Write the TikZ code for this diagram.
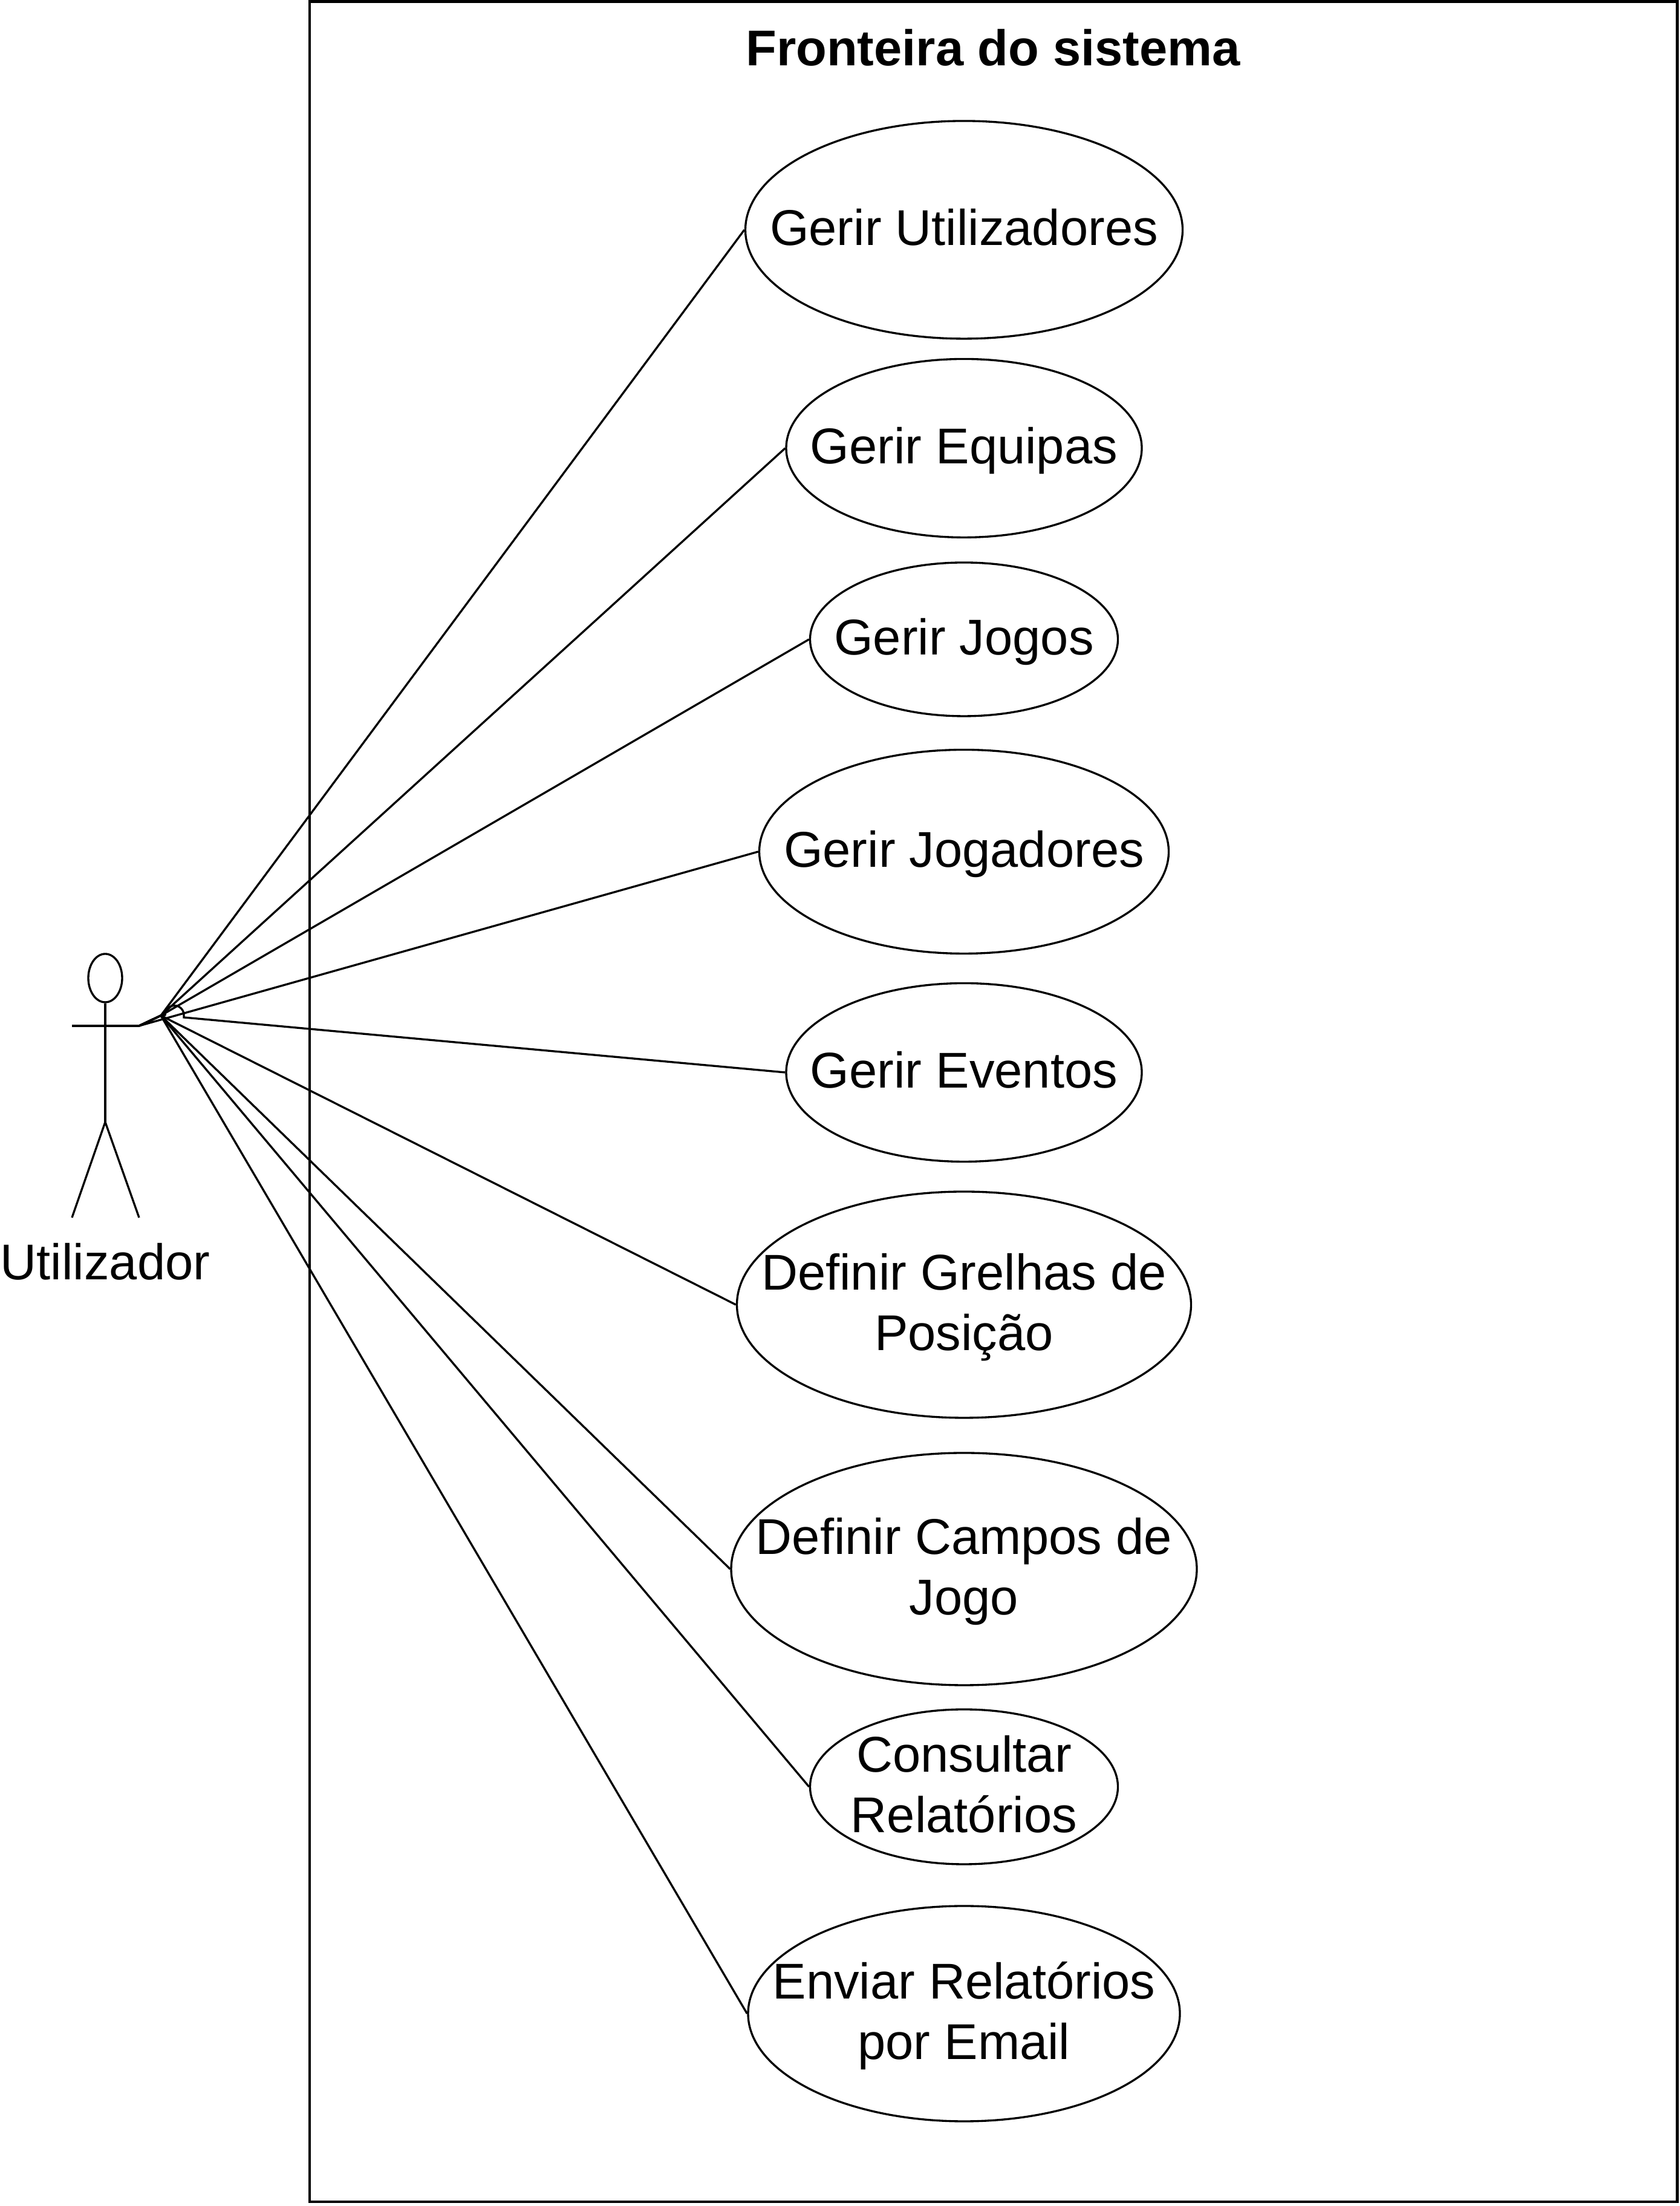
\documentclass[tikz,border=0pt]{standalone}
\usepackage{fontspec}
\setmainfont{Liberation Sans}
\usepackage{tikz}
\usetikzlibrary{shapes.geometric}
\tikzstyle{usecase} = [draw,ellipse,inner ysep=0pt,inner xsep=-1.5cm,text height=0.60cm,text depth=0.08cm,line width=0.95pt,align=center,font=\fontsize{23.65}{28.5}\selectfont]
\tikzstyle{twolines} = [text height=1.60cm]
\tikzstyle{line} = [line width=0.95pt]
\tikzstyle{boundary} = [draw,line width=1.4pt,inner sep=0pt,minimum width=22.61cm,minimum height=36.37cm]

\begin{document}
\begin{tikzpicture}
	\useasboundingbox (0,0) rectangle (27.77,36.47);
	\node (frontier) [boundary] at (16.425,18.255) {};
	\node (title) at (16.42,35.68) {\fontsize{23.65}{28.5}\selectfont\bfseries Fronteira do sistema};

	\node (gerirUtil) [usecase,minimum width=7.23cm,minimum height=3.60cm] at (15.94,32.67) {Gerir Utilizadores};
	\node (gerirEquipas) [usecase,minimum width=5.88cm,minimum height=2.95cm] at (15.94,29.06) {Gerir Equipas};
	\node (gerirJogos) [usecase,minimum width=5.09cm,minimum height=2.54cm] at (15.94,25.90) {Gerir Jogos};
	\node (gerirJogadores) [usecase,minimum width=6.77cm,minimum height=3.37cm] at (15.94,22.39) {Gerir Jogadores};
	\node (gerirEventos) [usecase,minimum width=5.88cm,minimum height=2.95cm] at (15.94,18.74) {Gerir Eventos};
	\node (defGrelhas) [usecase,twolines,minimum width=7.51cm,minimum height=3.74cm] at (15.94,14.90) {Definir Grelhas de\\Posição};
	\node (defCampos) [usecase,twolines,minimum width=7.70cm,minimum height=3.84cm] at (15.94,10.53) {Definir Campos de\\Jogo};
	\node (consultar) [usecase,twolines,minimum width=5.09cm,minimum height=2.56cm] at (15.94,6.93) {Consultar\\Relatórios};
	\node (enviar) [usecase,twolines,minimum width=7.14cm,minimum height=3.56cm] at (15.94,3.18) {Enviar Relatórios\\por Email};

	% actor
	\node (head) [draw,ellipse,line width=0.95pt,inner sep=0pt,minimum width=0.56cm,minimum height=0.80cm] at (1.74,20.30) {};
	\coordinate (handL) at (1.19,19.51);
	\coordinate (handR) at (2.30,19.51);
	\coordinate (hip) at (1.74,17.92);
	\coordinate (footL) at (1.19,16.34);
	\coordinate (footR) at (2.30,16.34);
	\coordinate (fan) at (2.66,19.68);
	\node (actor) at (1.74,15.61) {\fontsize{23.65}{28.5}\selectfont Utilizador};
	\draw[line] (head.south) -- (hip);
	\draw[line] (handL) -- (handR);
	\draw[line] (footL) -- (hip) -- (footR);

	\draw[line] (handR) -- (fan) -- (gerirUtil.west);
	\draw[line] (handR) -- (fan) -- (gerirEquipas.west);
	\draw[line] (handR) -- (fan) -- (gerirJogos.west);
	\draw[line] (handR) -- (gerirJogadores.west);
	\draw[line] (fan) -- (2.73,19.69) arc (180:0:0.155) -- (3.04,19.65) -- (gerirEventos.west);
	\draw[line] (handR) -- (fan) -- (defGrelhas.west);
	\draw[line] (handR) -- (fan) -- (defCampos.west);
	\draw[line] (handR) -- (fan) -- (consultar.west);
	\draw[line] (handR) -- (fan) -- (enviar.west);
\end{tikzpicture}
\end{document}
